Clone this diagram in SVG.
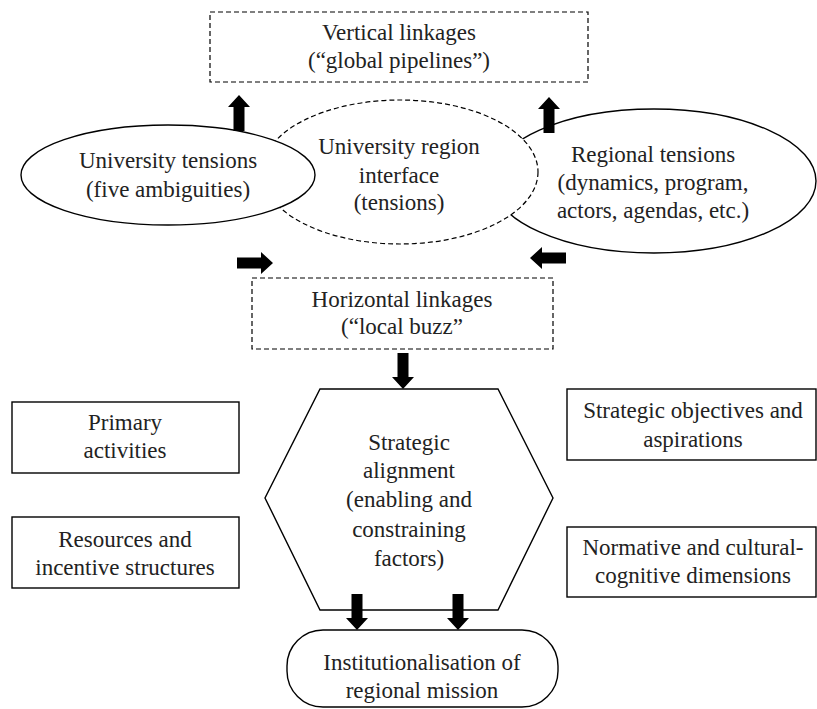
<svg xmlns="http://www.w3.org/2000/svg" xmlns:xlink="http://www.w3.org/1999/xlink" width="817" height="709" viewBox="0 0 817 709">
  <style>
    .solid { fill: #fff; stroke: #000; stroke-width: 1.4; }
    .dash { fill: #fff; stroke: #000; stroke-width: 1.2; stroke-dasharray: 5 3; }
    text { font-family: "Liberation Serif", "Times New Roman", "DejaVu Serif", serif; font-size: 23px; fill: #222; text-anchor: middle; }
    .arrow { fill: #000; }
  </style>
  <defs>
    <!-- block arrow pointing up, tip at origin -->
    <path id="blk" d="M0,0 L-11,12 L-5.5,12 L-5.5,36 L5.5,36 L5.5,12 L11,12 Z"/>
  </defs>
  <rect width="817" height="709" fill="#fff"/>

  <g id="vertical-linkages">
    <rect class="dash" x="210" y="12" width="378" height="70"/>
    <text x="399" y="40">Vertical linkages</text>
    <text x="399" y="68">(“global pipelines”)</text>
  </g>

  <!-- drawn first: the interface ellipse overlaps its left side -->
  <g id="regional-tensions">
    <ellipse class="solid" cx="654" cy="181" rx="162" ry="72"/>
    <text x="653" y="162">Regional tensions</text>
    <text x="653" y="190">(dynamics, program,</text>
    <text x="653" y="218">actors, agendas, etc.)</text>
  </g>

  <g id="interface">
    <ellipse class="dash" cx="400" cy="172" rx="138" ry="72"/>
    <text x="399" y="154">University region</text>
    <text x="399" y="183">interface</text>
    <text x="399" y="210">(tensions)</text>
  </g>

  <g id="university-tensions">
    <ellipse class="solid" cx="168" cy="175" rx="147" ry="50"/>
    <text x="168" y="168">University tensions</text>
    <text x="168" y="197">(five ambiguities)</text>
  </g>

  <g id="horizontal-linkages">
    <rect class="dash" x="252" y="278" width="301" height="71"/>
    <text x="402" y="307">Horizontal linkages</text>
    <text x="402" y="334">(“local buzz”</text>
  </g>

  <g id="strategic-alignment">
    <polygon class="solid" points="320,389 498,389 553,498 498,610 320,610 265,498"/>
    <text x="409" y="450">Strategic</text>
    <text x="409" y="478">alignment</text>
    <text x="409" y="507">(enabling and</text>
    <text x="409" y="537">constraining</text>
    <text x="409" y="566">factors)</text>
  </g>

  <g id="primary-activities">
    <rect class="solid" x="12" y="402" width="227" height="71"/>
    <text x="125" y="430">Primary</text>
    <text x="125" y="458">activities</text>
  </g>

  <g id="resources">
    <rect class="solid" x="12" y="517" width="227" height="71"/>
    <text x="125" y="547">Resources and</text>
    <text x="125" y="575">incentive structures</text>
  </g>

  <g id="strategic-objectives">
    <rect class="solid" x="567" y="389" width="249" height="71"/>
    <text x="693" y="418">Strategic objectives and</text>
    <text x="693" y="447">aspirations</text>
  </g>

  <g id="normative">
    <rect class="solid" x="567" y="527" width="249" height="70"/>
    <text x="693" y="555">Normative and cultural-</text>
    <text x="693" y="583">cognitive dimensions</text>
  </g>

  <g id="institutionalisation">
    <rect class="solid" x="287" y="630" width="271" height="77" rx="36" ry="36"/>
    <text x="422" y="670">Institutionalisation of</text>
    <text x="422" y="698">regional mission</text>
  </g>

  <g id="connectors" class="arrow">
    <use xlink:href="#blk" transform="translate(239,95)"/>
    <use xlink:href="#blk" transform="translate(549,97)"/>
    <use xlink:href="#blk" transform="translate(273,263) rotate(90)"/>
    <use xlink:href="#blk" transform="translate(530,258) rotate(-90)"/>
    <use xlink:href="#blk" transform="translate(403,389) rotate(180)"/>
    <use xlink:href="#blk" transform="translate(357,630) rotate(180)"/>
    <use xlink:href="#blk" transform="translate(458,630) rotate(180)"/>
  </g>
</svg>
